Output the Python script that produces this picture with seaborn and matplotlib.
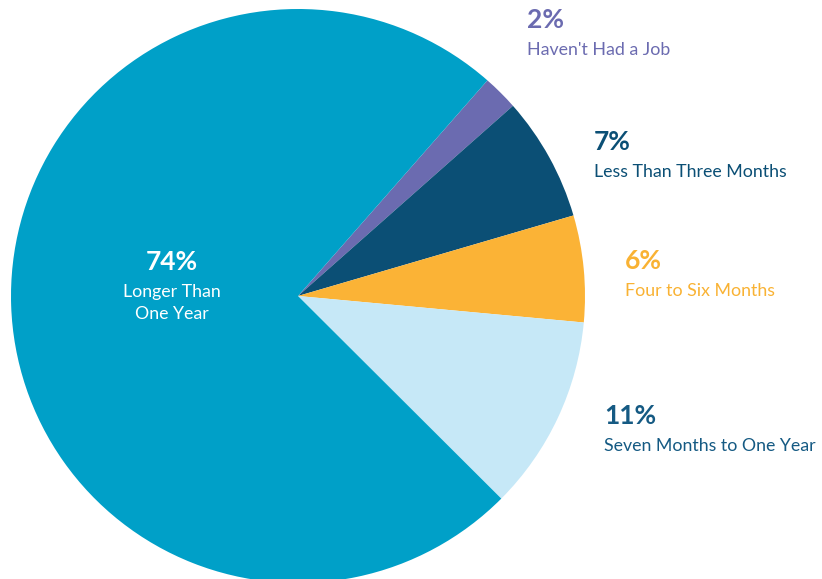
import matplotlib
matplotlib.use("Agg")
import matplotlib.pyplot as plt
import seaborn as sns

categories = ["Haven't Had a Job", "Less Than Three Months", "Four to Six Months",
              "Seven Months to One Year", "Longer Than\nOne Year"]
shares = [2, 7, 6, 11, 74]
colors = ["#6B6BB0", "#0B4F75", "#FBB336", "#C6E8F7", "#00A0C8"]
text_colors = ["#6B6BB0", "#0B4F75", "#F9B233", "#155A83", "white"]

sns.set_theme(style="white")
plt.rcParams['font.family'] = ['Lato', 'DejaVu Sans']

W, H = 822, 579
fig = plt.figure(figsize=(W / 100, H / 100), dpi=100)
ax = fig.add_axes([0, 0, 1, 1])

ax.pie(shares, colors=colors, startangle=48.7, counterclock=False,
       center=(298, H - 296), radius=287,
       wedgeprops=dict(linewidth=0))

ax.set_xlim(0, W)
ax.set_ylim(0, H)
ax.set_aspect("equal")
ax.axis("off")

# outside labels: (x, y of percent, y of category) in pixels
label_pos = [(527, 20, 50), (594, 142, 172), (625, 261, 291), (604, 416, 446)]
for i, (x, yp, yl) in enumerate(label_pos):
    ax.text(x, H - yp, f"{shares[i]}%", color=text_colors[i], fontsize=19,
            fontweight="bold", ha="left", va="center")
    ax.text(x, H - yl, categories[i], color=text_colors[i], fontsize=12.8,
            ha="left", va="center")

# label inside the big slice
ax.text(172, H - 262, f"{shares[4]}%", color="white", fontsize=19,
        fontweight="bold", ha="center", va="center")
ax.text(172, H - 303, categories[4], color="white", fontsize=12.8,
        ha="center", va="center", linespacing=1.5)

fig.savefig("out.png", dpi=100)
